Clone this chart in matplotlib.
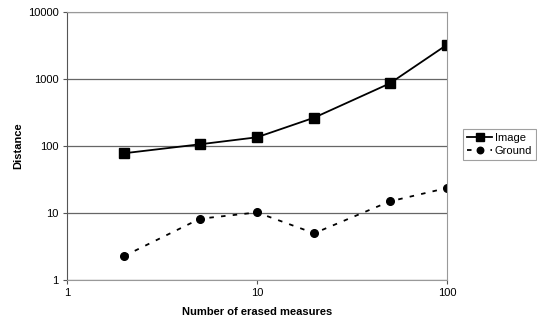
import matplotlib.pyplot as plt
import numpy as np

plt.rcParams['font.family'] = ['Liberation Sans', 'DejaVu Sans']

erased = [2, 5, 10, 20, 50, 100]
image = [78, 106, 135, 265, 860, 3250]
ground = [2.28, 8.2, 10.2, 4.98, 14.9, 23.6]

fig = plt.figure(figsize=(5.37, 3.25), dpi=100)
ax = fig.add_axes([0.1248, 0.1385, 0.7076, 0.8245])

ax.plot(erased, image, color='black', lw=1.3, marker='s', ms=6.5, label='Image')
ax.plot(erased, ground, color='black', lw=1.3, ls=(0, (2.5, 4)), marker='o', ms=5.5,
        label='Ground')

ax.set_xscale('log')
ax.set_yscale('log')
ax.set_xlim(1, 100)
ax.set_ylim(1, 10000)
ax.set_xticks([1, 10, 100])
ax.set_xticklabels(['1', '10', '100'])
ax.set_yticks([1, 10, 100, 1000, 10000])
ax.set_yticklabels(['1', '10', '100', '1000', '10000'])
ax.minorticks_off()
ax.yaxis.grid(True, color='#666666', lw=0.9)
ax.set_axisbelow(True)

for s in ['top', 'right']:
    ax.spines[s].set_color('#999999')
ax.spines['left'].set_color('#555555')
ax.spines['bottom'].set_color('#999999')
ax.tick_params(labelsize=8, length=3, color='#555555', pad=3)

ax.set_xlabel('Number of erased measures', fontsize=8, fontweight='bold', labelpad=6)
ax.set_ylabel('Distance', fontsize=8, fontweight='bold')
ax.yaxis.set_label_coords(-0.115, 0.5)

leg = fig.legend(loc='upper left', bbox_to_anchor=(463 / 537, 1 - 129 / 325),
                 fontsize=8, frameon=True, fancybox=False, edgecolor='#888888',
                 handlelength=2.3, handletextpad=0.2, borderpad=0.35, labelspacing=0.3,
                 borderaxespad=0, markerscale=0.85)
leg.get_frame().set_linewidth(0.8)

fig.savefig('out.png', dpi=100)
